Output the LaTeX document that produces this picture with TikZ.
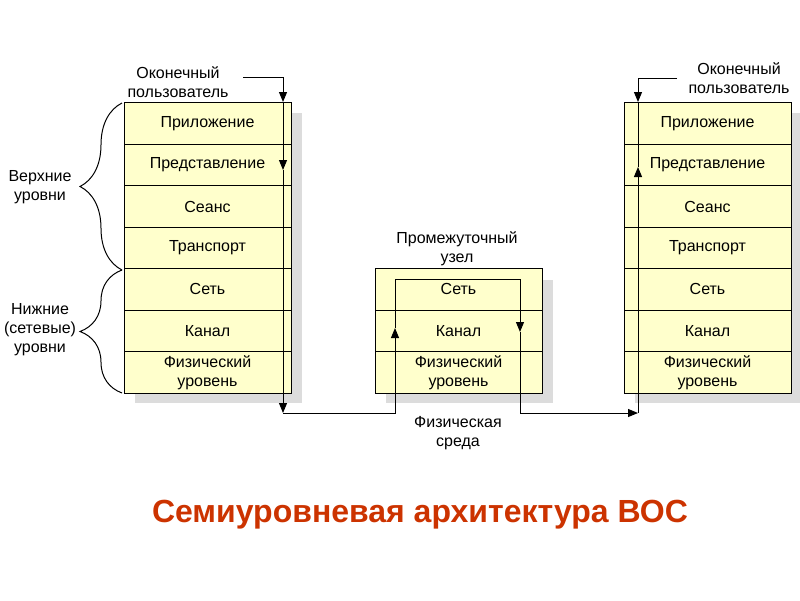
\documentclass[tikz,border=0pt]{standalone}
\usepackage{fontspec}
\setmainfont{Liberation Sans}
\usetikzlibrary{arrows.meta,decorations.pathreplacing}
\definecolor{layerfill}{RGB}{255,255,204}
\definecolor{shadowgray}{RGB}{220,220,220}
\definecolor{titlered}{RGB}{204,51,0}

\begin{document}
\begin{tikzpicture}[
    x=1pt, y=-1pt,
    font=\fontsize{16}{19}\selectfont,
    layer/.style={draw, fill=layerfill, line width=1pt, inner sep=0pt,
        minimum width=167pt, minimum height=41.43pt, align=center},
    shade/.style={fill=shadowgray},
    label/.style={align=center},
    flow/.style={-{Triangle[length=10pt, width=8pt]}, line width=1pt},
    bracket/.style={decorate, line width=1pt,
        decoration={brace, amplitude=42pt, aspect=0.5}}
]
    \useasboundingbox (0,0) rectangle (800,600);

    % Shadows
    \fill[shade] (135,113) rectangle (302,403);
    \fill[shade] (386,280) rectangle (553,403);
    \fill[shade] (635,113) rectangle (802,403);

    % Left stack (end system)
    \node[layer] (lapp)   at (207.5,123.7) {Приложение};
    \node[layer] (lpres)  at (207.5,165.1) {Представление};
    \node[layer] (lsess)  at (207.5,206.5) {Сеанс};
    \node[layer] (ltrans) at (207.5,248.0) {Транспорт};
    \node[layer] (lnet)   at (207.5,289.4) {Сеть};
    \node[layer] (llink)  at (207.5,330.8) {Канал};
    \node[layer] (lphys)  at (207.5,372.3) {Физический\\уровень};

    % Middle stack (intermediate node)
    \node[layer] (mnet)   at (458.5,289.4) {Сеть};
    \node[layer] (mlink)  at (458.5,330.8) {Канал};
    \node[layer] (mphys)  at (458.5,372.3) {Физический\\уровень};

    % Right stack (end system)
    \node[layer] (rapp)   at (707.5,123.7) {Приложение};
    \node[layer] (rpres)  at (707.5,165.1) {Представление};
    \node[layer] (rsess)  at (707.5,206.5) {Сеанс};
    \node[layer] (rtrans) at (707.5,248.0) {Транспорт};
    \node[layer] (rnet)   at (707.5,289.4) {Сеть};
    \node[layer] (rlink)  at (707.5,330.8) {Канал};
    \node[layer] (rphys)  at (707.5,372.3) {Физический\\уровень};

    % Labels
    \node[label] (luser)  at (178,82)  {Оконечный\\пользователь};
    \node[label] (ruser)  at (739,78)  {Оконечный\\пользователь};
    \node[label] (inter)  at (457,249) {Промежуточный\\узел};
    \node[label] (medium) at (458,433) {Физическая\\среда};
    \node[label] (upper)  at (40,187)  {Верхние\\уровни};
    \node[label] (lower)  at (40,330)  {Нижние\\(сетевые)\\уровни};

    % Braces
    \draw[bracket] (122,270) -- (122,103);
    \draw[bracket] (122,393) -- (122,270);

    % Path coordinates
    \coordinate (lin)     at (243,77);
    \coordinate (lcorner) at (283,77);
    \coordinate (ltop)    at (283,102);
    \coordinate (lmid)    at (283,170);
    \coordinate (lfoot)   at (283,413);
    \coordinate (mleft)   at (395,413);
    \coordinate (mup)     at (395,328);
    \coordinate (mtl)     at (395,279);
    \coordinate (mtr)     at (520,279);
    \coordinate (mdown)   at (520,332);
    \coordinate (mright)  at (520,413);
    \coordinate (rfoot)   at (638,413);
    \coordinate (rmid)    at (638,167);
    \coordinate (rtop)    at (638,102);
    \coordinate (rcorner) at (638,78);
    \coordinate (rin)     at (677,78);

    % Data flow
    \draw[flow] (lin) -- (lcorner) -- (ltop);
    \draw[flow] (ltop) -- (lmid);
    \draw[flow] (lmid) -- (lfoot);
    \draw[flow] (lfoot) -- (mleft) -- (mup);
    \draw[flow] (mup) -- (mtl) -- (mtr) -- (mdown);
    \draw[flow] (mdown) -- (mright) -- (rfoot);
    \draw[flow] (rfoot) -- (rmid);
    \draw[line width=1pt] (rmid) -- (rtop);
    \draw[flow] (rin) -- (rcorner) -- (rtop);

    % Title
    \node[font=\fontsize{32}{36}\selectfont\bfseries, text=titlered] (title)
        at (420,515) {Семиуровневая архитектура ВОС};

\end{tikzpicture}
\end{document}
